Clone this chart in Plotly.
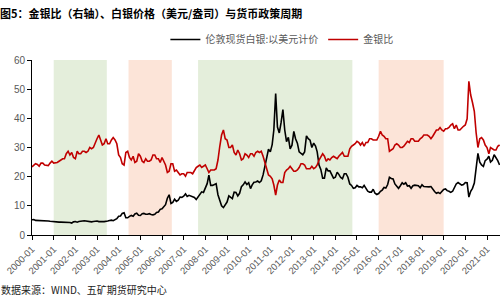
import pandas as pd
import plotly.graph_objects as go

# ---------------- data ----------------
months = pd.date_range("2000-01-01", "2021-08-01", freq="MS")

silver = [
    # 2000
    5.2, 5.3, 5.0, 5.0, 5.0, 5.0, 5.0, 4.9, 4.9, 4.8, 4.7, 4.6,
    # 2001
    4.7, 4.5, 4.4, 4.4, 4.4, 4.4, 4.3, 4.2, 4.3, 4.3, 4.1, 4.5,
    # 2002
    4.6, 4.4, 4.6, 4.6, 4.8, 4.9, 4.8, 4.6, 4.6, 4.5, 4.6, 4.7,
    # 2003
    4.8, 4.6, 4.5, 4.6, 4.6, 4.6, 4.8, 5.0, 5.1, 4.9, 5.2, 5.6,
    # 2004
    6.4, 6.5, 7.4, 7.6, 5.9, 5.9, 6.4, 6.7, 6.4, 7.2, 7.5, 6.8,
    # 2005
    6.7, 7.3, 7.4, 7.1, 7.1, 7.3, 7.0, 6.9, 7.1, 7.7, 7.9, 8.8,
    # 2006
    9.0, 9.6, 10.4, 12.6, 13.8, 10.8, 11.2, 12.3, 11.5, 11.9, 13.0, 12.9,
    # 2007
    13.3, 14.1, 13.2, 13.6, 13.3, 13.2, 12.9, 12.2, 13.0, 13.8, 14.8, 14.6,
    # 2008
    16.1, 17.6, 20.5, 17.0, 17.0, 17.2, 17.6, 13.8, 12.1, 10.0, 9.4, 10.5,
    # 2009
    11.3, 13.4, 13.1, 12.5, 14.7, 14.6, 13.4, 14.3, 16.6, 17.2, 18.2, 17.3,
    # 2010
    17.9, 15.9, 17.2, 18.1, 18.2, 18.5, 18.0, 18.6, 20.6, 23.3, 26.6, 29.4,
    # 2011
    28.5, 31.0, 36.0, 48.5, 37.0, 35.0, 38.5, 43.0, 36.0, 32.0, 33.5, 29.5,
    # 2012
    30.8, 35.5, 33.0, 31.5, 28.5, 28.0, 27.5, 28.5, 34.0, 33.0, 32.5, 30.0,
    # 2013
    31.5, 30.5, 28.5, 24.0, 22.5, 19.5, 19.5, 23.0, 22.0, 22.0, 20.5, 19.5,
    # 2014
    19.8, 21.5, 20.8, 19.7, 19.3, 21.0, 21.0, 19.8, 17.5, 17.0, 16.0, 16.2,
    # 2015
    17.0, 16.5, 16.5, 16.2, 17.0, 15.8, 15.0, 14.7, 14.7, 15.7, 14.3, 13.9,
    # 2016
    14.2, 15.0, 15.4, 16.3, 16.1, 17.3, 19.8, 19.4, 19.2, 17.5, 16.8, 16.0,
    # 2017
    16.9, 17.9, 17.4, 17.9, 16.8, 16.9, 16.0, 16.9, 17.1, 16.9, 16.9, 16.2,
    # 2018
    17.2, 16.6, 16.5, 16.6, 16.5, 16.6, 15.6, 14.9, 14.3, 14.6, 14.2, 14.8,
    # 2019
    15.6, 15.8, 15.2, 15.0, 14.6, 15.0, 16.1, 17.5, 18.0, 17.5, 17.1, 17.3,
    # 2020
    18.0, 17.9, 13.0, 15.0, 16.0, 17.8, 24.0, 28.0, 25.0, 24.0, 23.5, 25.5,
    # 2021
    26.0, 27.0, 25.0, 25.6, 27.5, 26.5, 25.5, 24.0,
]

gold_silver_ratio = [
    # 2000
    54.5, 56, 57, 56.5, 55, 57.5, 57.5, 56, 56, 55.5, 57.5, 59,
    # 2001
    57.5, 57.5, 58, 59, 60, 61, 61, 65, 67, 64, 66, 62,
    # 2002
    61, 67, 65, 65, 67, 67, 66, 67, 70, 69, 70, 74,
    # 2003
    77, 80, 76, 72, 73, 77, 73, 73, 76, 78, 76, 73,
    # 2004
    64, 62, 57, 56, 66, 67, 62, 60, 63, 58, 59, 65,
    # 2005
    63, 59, 58, 61, 59, 59, 60, 64, 64, 61, 61, 58,
    # 2006
    62, 58, 56, 50, 51, 57, 57, 51, 52, 50, 48, 49,
    # 2007
    49, 47, 50, 50, 50, 49, 51, 54, 55, 56, 54, 55,
    # 2008
    56, 53, 50, 52, 52, 52, 53, 60, 71, 80, 84, 77,
    # 2009
    76, 70, 70, 72, 66, 64, 68, 65, 60, 61, 65, 64,
    # 2010
    62, 65, 65, 63, 66, 67, 66, 67, 63, 58, 52, 48,
    # 2011
    47, 45, 40, 32, 40, 44, 42, 42, 50, 52, 53, 55,
    # 2012
    53, 51, 51, 52, 54, 57, 57, 56, 53, 53, 53, 55,
    # 2013
    53, 54, 56, 60, 62, 65, 63, 59, 61, 60, 62, 63,
    # 2014
    62, 61, 63, 65, 66, 63, 63, 63, 69, 71, 72, 73,
    # 2015
    75, 74, 72, 74, 71, 74, 74, 77, 77, 76, 76, 76,
    # 2016
    79, 83, 80, 79, 77, 77, 67, 68, 69, 72, 73, 72,
    # 2017
    70, 70, 71, 73, 75, 74, 77, 77, 75, 75, 75, 77,
    # 2018
    78, 80, 80, 80, 79, 77, 79, 81, 84, 84, 86, 84,
    # 2019
    83, 85, 85, 86, 88, 89, 85, 88, 84, 84, 86, 87,
    # 2020
    88, 93, 123, 112, 106, 99, 82, 70, 77, 78, 76, 72,
    # 2021
    70, 65, 70, 69, 68, 68, 71, 72,
]

# monetary-policy cycles
easing_periods = [("2001-01-01", "2003-06-15"), ("2007-09-01", "2014-10-15")]
tightening_periods = [("2004-06-15", "2006-06-15"), ("2016-01-01", "2019-01-01")]

title_text = "图5：金银比（右轴）、白银价格（美元/盎司）与货币政策周期"
source_text = "数据来源：WIND、五矿期货研究中心"
silver_name = "伦敦现货白银:以美元计价"
ratio_name = "金银比"

# ---------------- figure ----------------
CJK = "Noto Sans CJK SC"
fig = go.Figure()

fig.add_trace(go.Scatter(x=months, y=silver, name=silver_name, mode="lines",
                         line=dict(color="#000000", width=1.6)))
fig.add_trace(go.Scatter(x=months, y=gold_silver_ratio, name=ratio_name, mode="lines",
                         line=dict(color="#c00000", width=1.6), yaxis="y2"))

shapes = []
for s, e in easing_periods:
    shapes.append(dict(type="rect", xref="x", yref="paper", x0=s, x1=e, y0=0, y1=1,
                       fillcolor="#e4eedb", line=dict(width=0), layer="below"))
for s, e in tightening_periods:
    shapes.append(dict(type="rect", xref="x", yref="paper", x0=s, x1=e, y0=0, y1=1,
                       fillcolor="#fce4d8", line=dict(width=0), layer="below"))

fig.update_layout(
    width=500, height=300,
    margin=dict(l=32, r=0, t=60, b=65),
    paper_bgcolor="white", plot_bgcolor="white",
    font=dict(family=CJK, size=10, color="#595959"),
    shapes=shapes,
    showlegend=True,
    legend=dict(orientation="h", x=0.285, y=1.20, xanchor="left", yanchor="top",
                font=dict(size=10, color="#595959", family=CJK),
                bgcolor="rgba(0,0,0,0)", itemwidth=30, tracegroupgap=0),
    xaxis=dict(range=["2000-01-01", "2021-08-08"], type="date",
               tickformat="%Y-%m", dtick="M12", tick0="2000-01-01",
               tickangle=-45, ticks="outside", ticklen=4, tickcolor="#000",
               showline=True, linecolor="#000", linewidth=1,
               showgrid=False, zeroline=False,
               tickfont=dict(size=9.5, color="#595959", family="Liberation Sans")),
    yaxis=dict(range=[0, 60], dtick=10, ticks="outside", ticklen=4, tickcolor="#000",
               showline=True, linecolor="#000", linewidth=1,
               showgrid=False, zeroline=False,
               tickfont=dict(size=10, color="#595959", family="Liberation Sans")),
    yaxis2=dict(range=[0, 140], overlaying="y", side="right", visible=False),
    annotations=[
        dict(text="<b>" + title_text + "</b>", xref="paper", yref="paper",
             x=-0.072, y=1.27, xanchor="left", yanchor="middle", showarrow=False,
             font=dict(size=11, color="#000000", family=CJK)),
        dict(text=source_text, xref="paper", yref="paper",
             x=-0.070, y=-0.314, xanchor="left", yanchor="middle", showarrow=False,
             font=dict(size=10, color="#222222", family=CJK)),
    ],
)

fig.write_html("out.html")
